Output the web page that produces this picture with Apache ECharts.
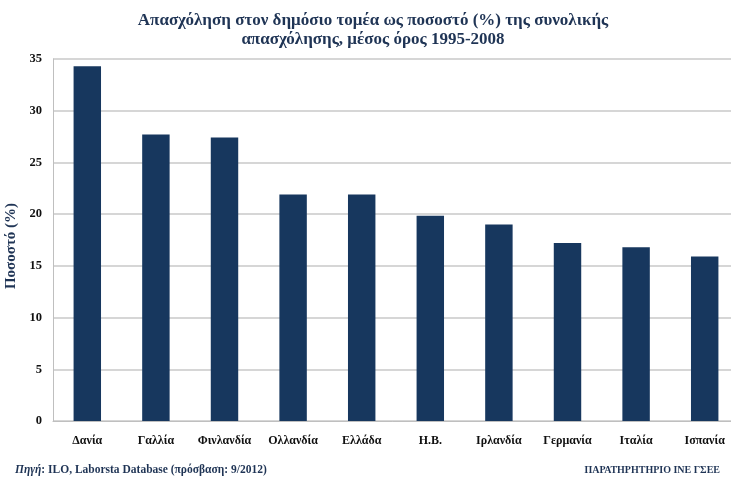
<!DOCTYPE html>
<html><head><meta charset="utf-8">
<script src="https://cdn.jsdelivr.net/npm/echarts@6/dist/echarts.min.js"></script>
<style>html,body{margin:0;padding:0;background:#fff}#c{width:731px;height:480px}</style>
</head><body><div id="c"></div>
<script>
const categories = ['Δανία','Γαλλία','Φινλανδία','Ολλανδία','Ελλάδα','Η.Β.','Ιρλανδία','Γερμανία','Ιταλία','Ισπανία'];
const values = [34.3, 27.7, 27.4, 21.9, 21.9, 19.85, 19.0, 17.2, 16.8, 15.9];
const yTicks = [0, 5, 10, 15, 20, 25, 30, 35];
const serif = '"Liberation Serif", "DejaVu Serif", serif';
const chart = echarts.init(document.getElementById('c'));
chart.setOption({
  backgroundColor: '#fff',
  animation: false,
  title: [
    {text: 'Απασχόληση στον δημόσιο τομέα ως ποσοστό (%) της συνολικής\nαπασχόλησης, μέσος όρος 1995-2008',
     left: 368, top: 6, textAlign: 'center',
     textStyle: {fontFamily: serif, fontSize: 17, fontWeight: 'bold', color: '#1f3455', lineHeight: 19}},
    {text: '{i|Πηγή}: ILO, Laborsta Database (πρόσβαση: 9/2012)', left: 10, top: 459,
     textStyle: {fontFamily: serif, fontSize: 11.5, fontWeight: 'bold', color: '#1f3455',
       rich: {i: {fontFamily: serif, fontSize: 11.5, fontStyle: 'italic', fontWeight: 'bold', color: '#1f3455'}}}},
    {text: 'ΠΑΡΑΤΗΡΗΤΗΡΙΟ ΙΝΕ ΓΣΕΕ', right: 6, top: 460,
     textStyle: {fontFamily: serif, fontSize: 10, fontWeight: 'bold', color: '#1f3455'}}
  ],
  grid: {left: 53, top: 59, width: 686, height: 362, containLabel: false, outerBoundsMode: 'none'},
  xAxis: {
    type: 'category', data: categories,
    axisLine: {lineStyle: {color: '#bfbfbf', width: 1}},
    axisTick: {show: false},
    axisLabel: {margin: 14, fontFamily: serif, fontSize: 12, fontWeight: 'bold', color: '#111', interval: 0}
  },
  yAxis: {
    type: 'value', min: yTicks[0], max: yTicks[yTicks.length-1], interval: 5,
    name: 'Ποσοστό (%)', nameLocation: 'middle', nameGap: 34, nameRotate: 90,
    nameTextStyle: {fontFamily: serif, fontSize: 15, fontWeight: 'bold', color: '#1f3455', padding: [0, 12, 0, 0]},
    axisLine: {show: true, lineStyle: {color: '#bfbfbf'}},
    axisTick: {show: false},
    axisLabel: {margin: 11, fontFamily: serif, fontSize: 12.5, fontWeight: 'bold', color: '#111'},
    splitLine: {lineStyle: {color: '#c8c8c8', width: 1.5}}
  },
  series: [{
    type: 'bar', data: values, barWidth: '40%',
    itemStyle: {color: '#17375e'}
  }]
});
</script></body></html>
